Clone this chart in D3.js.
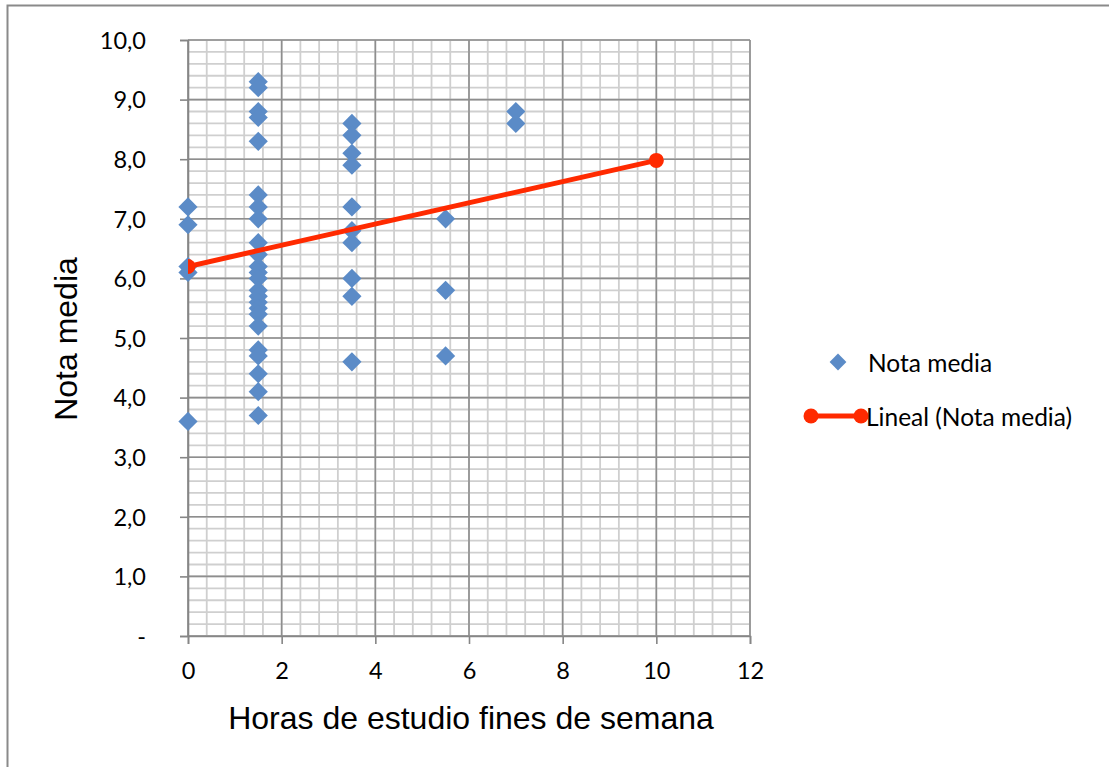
<!DOCTYPE html>
<html>
<head>
<meta charset="utf-8">
<script src="https://cdn.jsdelivr.net/npm/d3@7"></script>
<style>
  html, body { margin: 0; padding: 0; background: #fff; }
  svg { display: block; }
</style>
</head>
<body>
<svg id="chart" width="1109" height="767"></svg>
<script>
// ---- data ----
const hours = [
  0, 0, 0, 0, 0,
  1.5, 1.5, 1.5, 1.5, 1.5, 1.5, 1.5, 1.5, 1.5, 1.5, 1.5, 1.5,
  1.5, 1.5, 1.5, 1.5, 1.5, 1.5, 1.5, 1.5, 1.5, 1.5, 1.5, 1.5,
  3.5, 3.5, 3.5, 3.5, 3.5, 3.5, 3.5, 3.5, 3.5, 3.5,
  5.5, 5.5, 5.5,
  7, 7
];
const grades = [
  7.2, 6.9, 6.2, 6.1, 3.6,
  9.3, 9.2, 8.8, 8.7, 8.3, 7.4, 7.2, 7.0, 6.6, 6.4, 6.2, 6.1,
  6.0, 5.8, 5.7, 5.6, 5.5, 5.4, 5.2, 4.8, 4.7, 4.4, 4.1, 3.7,
  8.6, 8.4, 8.1, 7.9, 7.2, 6.8, 6.6, 6.0, 5.7, 4.6,
  7.0, 5.8, 4.7,
  8.8, 8.6
];
const trendX = [0, 10];
const trendY = [6.2, 7.98];
const xTicks = [0, 2, 4, 6, 8, 10, 12];
const yTicks = [0, 1, 2, 3, 4, 5, 6, 7, 8, 9, 10];
const yTickLabels = ["-", "1,0", "2,0", "3,0", "4,0", "5,0", "6,0", "7,0", "8,0", "9,0", "10,0"];
const seriesNames = ["Nota media", "Lineal (Nota media)"];
const xTitle = "Horas de estudio fines de semana";
const yTitle = "Nota media";

// ---- layout ----
const svg = d3.select("#chart");
const L = 188, R = 750, T = 40, B = 636;
const x = d3.scaleLinear().domain([0, 12]).range([L, R]);
const y = d3.scaleLinear().domain([0, 10]).range([B, T]);

const blue = "#5B8BC7";
const red = "#FF2A00";
const tickFont = "Lato, 'Open Sans', sans-serif";
const titleFont = "'Liberation Sans', Arial, sans-serif";

// outer chart border
svg.append("rect")
  .attr("x", 7.5).attr("y", 5.5)
  .attr("width", 1120).attr("height", 780)
  .attr("fill", "none").attr("stroke", "#8a8a8a").attr("stroke-width", 2);

// minor grid
const minorX = d3.range(0, 12.0001, 0.4);
const minorY = d3.range(0, 10.0001, 0.2);
const grid = svg.append("g");
grid.selectAll("line.mx").data(minorX).join("line")
  .attr("x1", d => x(d)).attr("x2", d => x(d))
  .attr("y1", T).attr("y2", B)
  .attr("stroke", "#cfcfcf").attr("stroke-width", 1.8);
grid.selectAll("line.my").data(minorY).join("line")
  .attr("class", "my")
  .attr("x1", L).attr("x2", R)
  .attr("y1", d => y(d)).attr("y2", d => y(d))
  .attr("stroke", "#cfcfcf").attr("stroke-width", 1.8);

// major grid
grid.selectAll("line.Mx").data(xTicks).join("line")
  .attr("class", "Mx")
  .attr("x1", d => x(d)).attr("x2", d => x(d))
  .attr("y1", T).attr("y2", B)
  .attr("stroke", "#8e8e8e").attr("stroke-width", 1.6);
grid.selectAll("line.My").data(yTicks).join("line")
  .attr("class", "My")
  .attr("x1", L).attr("x2", R)
  .attr("y1", d => y(d)).attr("y2", d => y(d))
  .attr("stroke", "#8e8e8e").attr("stroke-width", 1.6);

// axes
const xAxis = d3.axisBottom(x).tickValues(xTicks).tickSize(8).tickPadding(18)
  .tickFormat(d3.format("d"));
const gx = svg.append("g").attr("transform", `translate(0,${B})`).call(xAxis);
const yAxis = d3.axisLeft(y).tickValues(yTicks).tickSize(8).tickPadding(34)
  .tickFormat((d, i) => yTickLabels[i]);
const gy = svg.append("g").attr("transform", `translate(${L},0)`).call(yAxis);
[gx, gy].forEach(g => {
  g.select(".domain").attr("stroke", "#868686").attr("stroke-width", 1.6);
  g.selectAll(".tick line").attr("stroke", "#868686").attr("stroke-width", 1.6);
  g.selectAll(".tick text")
    .attr("fill", "#000")
    .style("font-family", tickFont)
    .style("font-size", "23.5px");
});
gy.selectAll(".tick text").attr("dy", "0.35em");

// points
const diamond = d3.symbol().type(d3.symbolDiamond2).size(235);
svg.append("g").selectAll("path").data(hours.map((h, i) => [h, grades[i]])).join("path")
  .attr("d", diamond)
  .attr("transform", d => `translate(${x(d[0])},${y(d[1])})`)
  .attr("fill", blue);

// trend line (clipped to plot area)
svg.append("clipPath").attr("id", "plotClip")
  .append("rect").attr("x", L).attr("y", T).attr("width", R - L).attr("height", B - T);
const trend = svg.append("g").attr("clip-path", "url(#plotClip)");
const trendPts = trendX.map((v, i) => [v, trendY[i]]);
trend.append("path")
  .datum(trendPts)
  .attr("d", d3.line().x(d => x(d[0])).y(d => y(d[1])))
  .attr("fill", "none").attr("stroke", red).attr("stroke-width", 5);
trend.selectAll("circle").data(trendPts).join("circle")
  .attr("cx", d => x(d[0])).attr("cy", d => y(d[1]))
  .attr("r", 7.5).attr("fill", red);

// legend
const lgDiamond = d3.symbol().type(d3.symbolDiamond2).size(180);
const lg = svg.append("g");
lg.append("path").attr("d", lgDiamond).attr("transform", "translate(838,362)").attr("fill", blue);
lg.append("text").attr("x", 868).attr("y", 363).attr("dy", "0.35em")
  .style("font-family", tickFont).style("font-size", "24.5px").text(seriesNames[0]);
lg.append("line").attr("x1", 811).attr("x2", 861).attr("y1", 416).attr("y2", 416)
  .attr("stroke", red).attr("stroke-width", 5);
lg.selectAll("circle").data([811, 861]).join("circle")
  .attr("cx", d => d).attr("cy", 416).attr("r", 7.5).attr("fill", red);
lg.append("text").attr("x", 866).attr("y", 417).attr("dy", "0.35em")
  .style("font-family", tickFont).style("font-size", "24.5px").text(seriesNames[1]);

// axis titles
svg.append("text")
  .attr("x", 471).attr("y", 729)
  .attr("text-anchor", "middle")
  .style("font-family", titleFont).style("font-size", "32px")
  .text(xTitle);
svg.append("text")
  .attr("transform", "translate(77,339) rotate(-90)")
  .attr("text-anchor", "middle")
  .style("font-family", titleFont).style("font-size", "32px")
  .text(yTitle);
</script>
</body>
</html>
